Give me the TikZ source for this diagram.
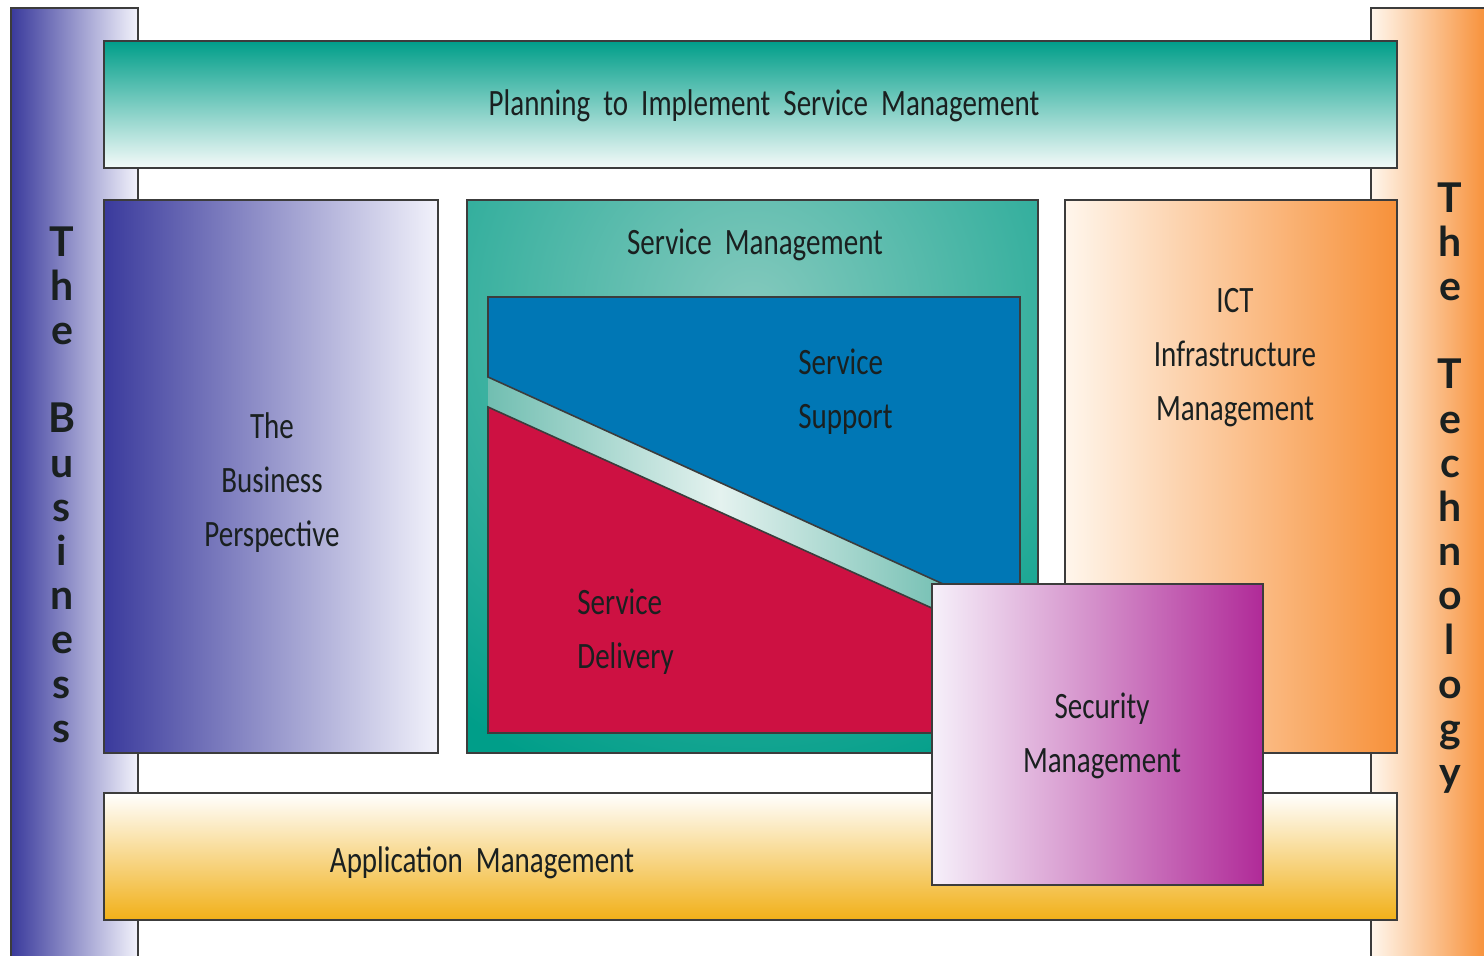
\documentclass[tikz,border=0pt]{standalone}
\usepackage{fontspec}
\setmainfont{Carlito}[FakeStretch=0.78]
\newfontfamily\barfont{Lato}
\definecolor{edge}{HTML}{3C3C3C}
\definecolor{ink}{HTML}{1A2020}
\definecolor{navy}{HTML}{3A3A9C}
\definecolor{lilac}{HTML}{F2F2FB}
\definecolor{tangerine}{HTML}{F7913A}
\definecolor{cream}{HTML}{FFF6EC}
\definecolor{teal}{HTML}{009E89}
\definecolor{mint}{HTML}{F4FAF9}
\definecolor{glow}{HTML}{84C9BD}
\definecolor{gold}{HTML}{F1B018}
\definecolor{ocean}{HTML}{0077B5}
\definecolor{crimson}{HTML}{CD1142}
\definecolor{seafoam}{HTML}{4FAF9F}
\definecolor{haze}{HTML}{E4F2EF}
\definecolor{magenta}{HTML}{B02A98}
\definecolor{blush}{HTML}{F6F0FA}
\begin{document}
\begin{tikzpicture}[x=0.5pt,y=-0.5pt,
  frame/.style={draw=edge, line width=0.8pt},
  label/.style={font=\fontsize{18.6}{27}\selectfont, text=ink, inner sep=0pt, align=center},
  barletter/.style={font=\barfont\bfseries\fontsize{20.5}{20}\selectfont, text=ink, inner sep=0pt, anchor=base}
]
\useasboundingbox (0,0) rectangle (1484,955);
\clip (0,0) rectangle (1484,955);

% side bars
\draw[frame, left color=navy, right color=lilac] (11,8) rectangle (138,980);
\draw[frame, left color=cream, right color=tangerine] (1371,8) rectangle (1486,980);

% horizontal bands
\draw[frame, top color=teal, bottom color=mint] (104,41) rectangle (1397,168);
\draw[frame, top color=white, bottom color=gold] (104,793) rectangle (1397,920);

% side boxes
\draw[frame, left color=navy, right color=lilac] (104,200) rectangle (438,753);
\draw[frame, left color=cream, right color=tangerine] (1065,200) rectangle (1397,753);

% service management box with a soft glow
\fill[teal] (467,200) rectangle (1038,753);
\begin{scope}
  \clip (467,200) rectangle (1038,753);
  \shade[inner color=glow, outer color=teal] (752,310) circle (500);
\end{scope}
\draw[frame] (467,200) rectangle (1038,753);

% strip between support and delivery
\begin{scope}
  \clip (488,297) rectangle (1020,733);
  \shade[left color=seafoam, right color=seafoam, middle color=haze] (420,297) rectangle (1020,733);
\end{scope}
\draw[frame, fill=ocean] (488,377) -- (488,297) -- (1020,297) -- (1020,619) -- cycle;
\draw[frame, fill=crimson] (488,407) -- (1020,648) -- (1020,733) -- (488,733) -- cycle;

% security management
\draw[frame, left color=blush, right color=magenta] (932,584) rectangle (1263,885);

% labels
\node[label] (plan) at (764,106) {Planning\ \ to\ \ Implement\ \ Service\ \ Management};
\node[label] (app) at (482,863) {Application\ \ Management};
\node[label] (biz) at (272,483) {The\\Business\\Perspective};
\node[label] (svc) at (755,245) {Service\ \ Management};
\node[label, align=left, anchor=west] (sup) at (798,392) {Service\\Support};
\node[label, align=left, anchor=west] (del) at (577,632) {Service\\Delivery};
\node[label] (ict) at (1235,358) {ICT\\Infrastructure\\Management};
\node[label] (sec) at (1102,736) {Security\\Management};

% vertical lettering on the bars
\foreach \ch [count=\i from 0] in {T,h,e,{},B,u,s,i,n,e,s,s}
  \node[barletter] (bl\i) at (62,{256+44.2*\i}) {\ch};
\foreach \ch [count=\i from 0] in {T,h,e,{},T,e,c,h,n,o,l,o,g,y}
  \node[barletter] (br\i) at (1450,{212+44.2*\i}) {\ch};
\end{tikzpicture}
\end{document}
